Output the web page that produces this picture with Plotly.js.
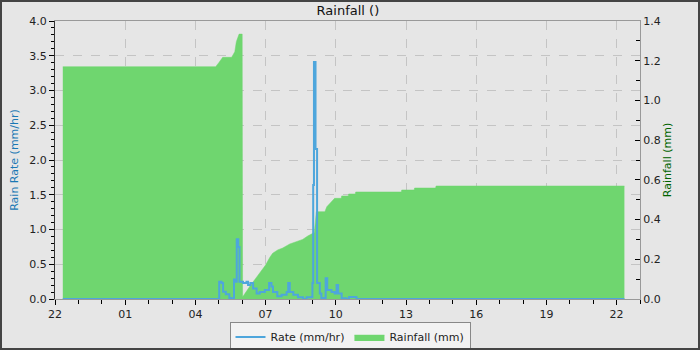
<!DOCTYPE html>
<html>
<head>
<meta charset="utf-8">
<script src="https://cdn.plot.ly/plotly-3.0.1.min.js"></script>
<style>
  html, body { margin:0; padding:0; background:#e6e6e6; }
  #wrap { position:relative; width:700px; height:350px; }
  #chart { width:700px; height:350px; }
  #frame { position:absolute; left:0; top:0; width:700px; height:350px; box-sizing:border-box; border:2px solid #444; pointer-events:none; }
</style>
</head>
<body>
<div id="wrap"><div id="chart"></div><div id="frame"></div></div>
<script>
// Rain rate (mm/hr), left axis
var rateTimes = [
  '2024-03-10 22:20','2024-03-11 04:54','2024-03-11 05:01','2024-03-11 05:07','2024-03-11 05:11',
  '2024-03-11 05:18','2024-03-11 05:27','2024-03-11 05:33','2024-03-11 05:39','2024-03-11 05:44',
  '2024-03-11 05:46','2024-03-11 05:50','2024-03-11 05:53','2024-03-11 05:56','2024-03-11 06:02',
  '2024-03-11 06:11','2024-03-11 06:15','2024-03-11 06:21','2024-03-11 06:28','2024-03-11 06:37',
  '2024-03-11 06:45','2024-03-11 06:58','2024-03-11 07:09','2024-03-11 07:15','2024-03-11 07:19',
  '2024-03-11 07:30','2024-03-11 07:41','2024-03-11 07:54','2024-03-11 07:58','2024-03-11 08:02',
  '2024-03-11 08:11','2024-03-11 08:23','2024-03-11 08:36','2024-03-11 08:45','2024-03-11 08:58',
  '2024-03-11 09:00','2024-03-11 09:02','2024-03-11 09:04','2024-03-11 09:08','2024-03-11 09:12',
  '2024-03-11 09:19','2024-03-11 09:23','2024-03-11 09:34','2024-03-11 09:38','2024-03-11 09:49',
  '2024-03-11 09:57','2024-03-11 10:02','2024-03-11 10:06','2024-03-11 10:15','2024-03-11 10:27',
  '2024-03-11 10:34','2024-03-11 10:53','2024-03-11 22:20'
];
var rateValues = [
  0, 0, 0.25, 0.23, 0.105,
  0.07, 0.015, 0, 0.28, 0.25,
  0.86, 0.75, 0.25, 0.25, 0.23,
  0.25, 0.2, 0.23, 0.15, 0.08,
  0.1, 0.13, 0.23, 0.18, 0.1,
  0.04, 0.06, 0.1, 0.23, 0.1,
  0.06, 0.025, 0, 0.025, 0.03,
  0.23, 1.64, 3.41, 2.16, 0.23,
  0.08, 0.015, 0.30, 0.13, 0.1,
  0.08, 0.2, 0.08, 0.01, 0,
  0.03, 0, 0
];

// Rainfall (mm), right axis
var rainTimes = [
  '2024-03-10 22:20','2024-03-11 04:52','2024-03-11 05:00','2024-03-11 05:10','2024-03-11 05:33',
  '2024-03-11 05:41','2024-03-11 05:45','2024-03-11 05:48','2024-03-11 05:52','2024-03-11 06:00',
  '2024-03-11 06:01','2024-03-11 06:20','2024-03-11 06:40','2024-03-11 07:00','2024-03-11 07:11',
  '2024-03-11 07:18','2024-03-11 07:31','2024-03-11 07:44','2024-03-11 08:02','2024-03-11 08:15',
  '2024-03-11 08:35','2024-03-11 08:48','2024-03-11 09:01','2024-03-11 09:05','2024-03-11 09:10',
  '2024-03-11 09:32','2024-03-11 09:37','2024-03-11 09:45','2024-03-11 09:52','2024-03-11 09:57',
  '2024-03-11 10:14','2024-03-11 10:15','2024-03-11 10:32','2024-03-11 10:33','2024-03-11 10:50',
  '2024-03-11 10:51','2024-03-11 12:48','2024-03-11 12:49','2024-03-11 13:21','2024-03-11 13:22',
  '2024-03-11 14:16','2024-03-11 14:17','2024-03-11 22:20'
];
var rainValues = [
  1.17, 1.17, 1.19, 1.217, 1.217,
  1.245, 1.296, 1.31, 1.334, 1.334,
  0.01, 0.065, 0.115, 0.171, 0.21,
  0.23, 0.247, 0.257, 0.277, 0.287,
  0.30, 0.317, 0.33, 0.335, 0.44,
  0.44, 0.465, 0.48, 0.495, 0.507,
  0.507, 0.519, 0.519, 0.529, 0.529,
  0.539, 0.539, 0.549, 0.549, 0.559,
  0.559, 0.569, 0.569
];

var xRange = ['2024-03-10 22:00', '2024-03-11 23:00'];
var titleText = 'Rainfall ()';
var rateLabel = 'Rate (mm/hr)';
var rainLabel = 'Rainfall (mm)';
var leftTitle = 'Rain Rate (mm/hr)';
var rightTitle = 'Rainfall (mm)';

var traces = [
  {
    x: rateTimes, y: rateValues, name: rateLabel, type: 'scatter', mode: 'lines',
    line: {color: '#4ea6dc', width: 2, shape: 'hv'}, yaxis: 'y2', hoverinfo: 'skip'
  },
  {
    x: rainTimes, y: rainValues, name: rainLabel, type: 'scatter', mode: 'lines',
    fill: 'tozeroy', fillcolor: '#6fd66f', line: {color: '#6fd66f', width: 0.5},
    yaxis: 'y', hoverinfo: 'skip'
  }
];

var gridCol = '#c4c4c4';
var layout = {
  width: 700, height: 350,
  paper_bgcolor: '#e6e6e6', plot_bgcolor: '#e6e6e6',
  margin: {l: 55, r: 60, t: 21, b: 51, autoexpand: false},
  font: {family: 'DejaVu Sans, sans-serif', size: 11, color: '#222'},
  title: {text: titleText, x: 0.497, xanchor: 'center', yref: 'container', y: 0.971, yanchor: 'middle',
          font: {size: 13, color: '#111'}},
  showlegend: true,
  legend: {orientation: 'h', xref: 'container', x: 0.5, xanchor: 'center',
           yref: 'container', y: 0.037, yanchor: 'middle',
           bordercolor: '#888', borderwidth: 1, bgcolor: '#f2f2f2', font: {size: 11}},
  xaxis: {
    type: 'date', range: xRange, tickformat: '%H', dtick: 10800000, tick0: '2024-03-10 22:00',
    ticks: 'outside', ticklen: 5, tickcolor: '#000', showline: true, linecolor: '#999', mirror: true,
    showgrid: true, gridcolor: gridCol, griddash: 'dash', zeroline: false, automargin: false,
    minor: {dtick: 3600000, tick0: '2024-03-10 22:00', ticks: 'outside', ticklen: 4, tickcolor: '#000', showgrid: false},
    fixedrange: true
  },
  yaxis: {
    side: 'right', range: [0, 1.4], dtick: 0.2, tickformat: '.1f',
    ticks: 'inside', ticklen: 5, tickcolor: '#000', showline: true, linecolor: '#999',
    showgrid: false, zeroline: false, automargin: false,
    minor: {dtick: 0.1, ticks: 'inside', ticklen: 4, tickcolor: '#000', showgrid: false},
    title: {text: rightTitle, font: {color: '#006400', size: 11}, standoff: 2},
    fixedrange: true
  },
  yaxis2: {
    overlaying: 'y', side: 'left', range: [0, 4], dtick: 0.5, tickformat: '.1f',
    ticks: 'outside', ticklen: 5, tickcolor: '#000', showline: true, linecolor: '#333',
    showgrid: true, gridcolor: gridCol, griddash: 'dash', zeroline: false, automargin: false,
    minor: {dtick: 0.1, ticks: 'outside', ticklen: 3, tickcolor: '#000', showgrid: false},
    title: {text: leftTitle, font: {color: '#1a78b4', size: 11}, standoff: 8},
    fixedrange: true
  }
};

Plotly.newPlot('chart', traces, layout, {displayModeBar: false, staticPlot: true});
</script>
</body>
</html>
